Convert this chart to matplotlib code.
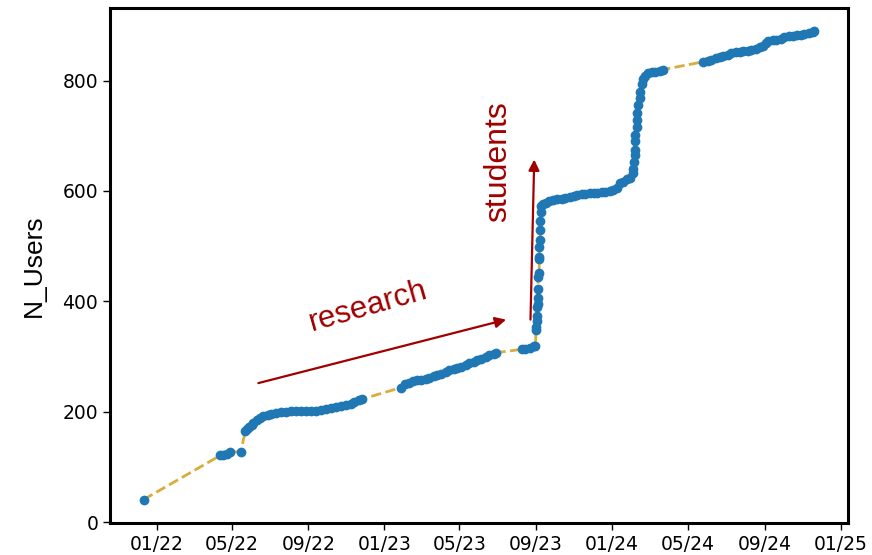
import matplotlib
matplotlib.use("Agg")
import matplotlib.pyplot as plt
import matplotlib.dates as mdates
import pandas as pd

# signup date vs cumulative number of users
dates = [
    "2021-12-11", "2022-04-13", "2022-04-18", "2022-04-23", "2022-04-28", "2022-05-16",
    "2022-05-23", "2022-05-26", "2022-05-29", "2022-06-02", "2022-06-05", "2022-06-10",
    "2022-06-15", "2022-06-21", "2022-06-28", "2022-07-04", "2022-07-12", "2022-07-20",
    "2022-07-28", "2022-08-05", "2022-08-13", "2022-08-21", "2022-08-29", "2022-09-06",
    "2022-09-14", "2022-09-22", "2022-09-30", "2022-10-08", "2022-10-16", "2022-10-24",
    "2022-11-01", "2022-11-08", "2022-11-14", "2022-11-21", "2022-11-26",
    "2023-01-28", "2023-02-03", "2023-02-09", "2023-02-16", "2023-02-22", "2023-03-01",
    "2023-03-08", "2023-03-14", "2023-03-21", "2023-03-27", "2023-04-02", "2023-04-09",
    "2023-04-15", "2023-04-22", "2023-04-28", "2023-05-04", "2023-05-11", "2023-05-17",
    "2023-05-24", "2023-05-30", "2023-06-05", "2023-06-12", "2023-06-18", "2023-06-25",
    "2023-06-28",
    "2023-08-09", "2023-08-15", "2023-08-22", "2023-08-28", "2023-08-31",
    "2023-09-01", "2023-09-01", "2023-09-03", "2023-09-03", "2023-09-03", "2023-09-04",
    "2023-09-04", "2023-09-04", "2023-09-04", "2023-09-06", "2023-09-06", "2023-09-06",
    "2023-09-06", "2023-09-08", "2023-09-08", "2023-09-08", "2023-09-09", "2023-09-09",
    "2023-09-12", "2023-09-17", "2023-09-22", "2023-09-28", "2023-10-05", "2023-10-12",
    "2023-10-18", "2023-10-25", "2023-10-31", "2023-11-06", "2023-11-13", "2023-11-19",
    "2023-11-26", "2023-12-02", "2023-12-08", "2023-12-15", "2023-12-21", "2023-12-28",
    "2024-01-03", "2024-01-08", "2024-01-13", "2024-01-18", "2024-01-24", "2024-01-29",
    "2024-02-03", "2024-02-04", "2024-02-05", "2024-02-06", "2024-02-06", "2024-02-07",
    "2024-02-07", "2024-02-09", "2024-02-09", "2024-02-10", "2024-02-12", "2024-02-14",
    "2024-02-15", "2024-02-17", "2024-02-19", "2024-02-22", "2024-02-27", "2024-03-04",
    "2024-03-10", "2024-03-17", "2024-03-23",
    "2024-05-26", "2024-06-02", "2024-06-08", "2024-06-15", "2024-06-21", "2024-06-27",
    "2024-07-04", "2024-07-10", "2024-07-17", "2024-07-23", "2024-07-29", "2024-08-05",
    "2024-08-11", "2024-08-18", "2024-08-24", "2024-08-29", "2024-09-03", "2024-09-07",
    "2024-09-14", "2024-09-20", "2024-09-27", "2024-10-03", "2024-10-10", "2024-10-16",
    "2024-10-23", "2024-10-29", "2024-11-04", "2024-11-11", "2024-11-17", "2024-11-20",
]
users = [
    41, 121, 122, 123, 127, 128,
    165, 168, 172, 176, 179, 185,
    188, 192, 194, 196, 197, 199,
    200, 201, 201, 201, 201, 201,
    202, 203, 205, 206, 208, 210,
    213, 215, 218, 221, 223,
    244, 250, 253, 256, 257, 258,
    259, 262, 264, 266, 269, 272,
    275, 277, 280, 282, 285, 288,
    291, 293, 296, 300, 302, 305,
    307,
    313, 314, 316, 319, 320,
    349, 353, 364, 373, 389, 395,
    407, 422, 445, 452, 476, 481,
    498, 512, 530, 545, 561, 572,
    576, 579, 581, 583, 585, 586,
    588, 589, 590, 592, 594, 595,
    596, 596, 597, 598, 599, 600,
    601, 606, 614, 617, 621, 624,
    632, 639, 653, 666, 675, 690,
    702, 715, 729, 742, 755, 769,
    780, 793, 802, 809, 813, 815,
    816, 818, 820,
    834, 836, 838, 840, 842, 844,
    847, 849, 851, 852, 853, 854,
    856, 857, 860, 863, 868, 871,
    873, 874, 876, 878, 880, 881,
    882, 883, 885, 886, 888, 889,
]

# annotation anchors (date, users)
research_arrow = [("2022-06-13", 252), ("2023-07-15", 367)]
students_arrow = [("2023-08-23", 367), ("2023-08-29", 657)]
research_text = ("2022-12-06", 390)
students_text = ("2023-07-02", 653)

x = pd.to_datetime(dates)
red = "#a00000"
arial = ["Liberation Sans", "DejaVu Sans"]

fig = plt.figure(figsize=(8.72, 5.55), dpi=100)
ax = fig.add_axes([110/872, 32/555, 738/872, 515/555])

ax.plot(x, users, "--", color="#d9ad3c", lw=2, zorder=1)
ax.plot(x, users, "o", color="#1f77b4", ms=6, zorder=2)

ax.xaxis.set_major_locator(mdates.MonthLocator(bymonth=[1, 5, 9]))
ax.xaxis.set_major_formatter(mdates.DateFormatter("%m/%y"))
ax.set_yticks([0, 200, 400, 600, 800])
ax.tick_params(labelsize=13.5, length=5, width=1)
for s in ax.spines.values():
    s.set_linewidth(2.2)

ax.set_ylabel("N_Users", fontsize=19, family=arial, labelpad=12)

for (x0, y0), (x1, y1) in [research_arrow, students_arrow]:
    ax.annotate("", xy=(pd.Timestamp(x1), y1), xytext=(pd.Timestamp(x0), y0),
                arrowprops=dict(arrowstyle="-|>", color=red, lw=1.6, mutation_scale=16,
                                shrinkA=0, shrinkB=0))

ax.text(pd.Timestamp(research_text[0]), research_text[1], "research", color=red,
        fontsize=22.5, rotation=16, ha="center", va="center",
        family=arial, rotation_mode="anchor")
ax.text(pd.Timestamp(students_text[0]), students_text[1], "students", color=red,
        fontsize=23, rotation=90, ha="center", va="center", family=arial)

fig.savefig("out.png", dpi=100)
